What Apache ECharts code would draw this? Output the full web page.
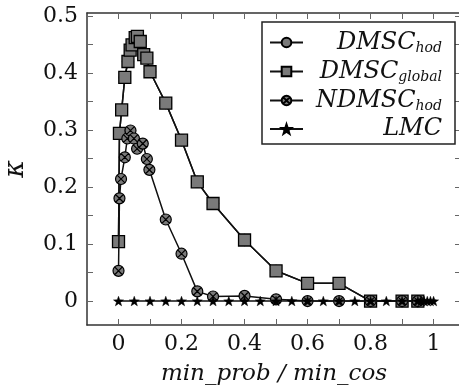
<!DOCTYPE html>
<html>
<head>
<meta charset="utf-8">
<script src="https://cdn.jsdelivr.net/npm/echarts@6/dist/echarts.min.js"></script>
<style>html,body{margin:0;padding:0;background:#fff;}#c{width:459px;height:390px;}</style>
</head>
<body>
<div id="c"></div>
<script>
// ---- data ----
const seriesNames = ['DMSC_hod', 'DMSC_global', 'NDMSC_hod', 'LMC'];

const globalX = [0, 0.003, 0.01, 0.02, 0.03, 0.037, 0.043, 0.053, 0.06, 0.069, 0.08, 0.09, 0.1, 0.15, 0.2, 0.25, 0.3, 0.4, 0.5, 0.6, 0.7, 0.8, 0.9, 0.95];
const globalY = [0.104, 0.294, 0.335, 0.392, 0.42, 0.44, 0.449, 0.462, 0.464, 0.455, 0.432, 0.426, 0.402, 0.347, 0.282, 0.209, 0.171, 0.107, 0.053, 0.031, 0.031, 0, 0, 0];

// DMSC_hod markers are hidden beneath the DMSC_global squares
const hodX = [0, 0.003, 0.01, 0.02, 0.03, 0.037, 0.043, 0.053, 0.06, 0.069, 0.08, 0.09, 0.1, 0.15, 0.2, 0.25, 0.3, 0.4, 0.5, 0.6, 0.7, 0.8, 0.9, 0.95];
const hodY = [0.104, 0.294, 0.335, 0.392, 0.42, 0.44, 0.449, 0.462, 0.464, 0.455, 0.432, 0.426, 0.402, 0.347, 0.282, 0.209, 0.171, 0.107, 0.053, 0.031, 0.031, 0, 0, 0];

const ndX = [0, 0.003, 0.008, 0.02, 0.028, 0.038, 0.049, 0.059, 0.077, 0.09, 0.098, 0.15, 0.2, 0.25, 0.3, 0.4, 0.5, 0.6, 0.7, 0.8, 0.9, 0.95];
const ndY = [0.053, 0.18, 0.214, 0.252, 0.285, 0.299, 0.285, 0.267, 0.276, 0.249, 0.23, 0.143, 0.083, 0.017, 0.008, 0.009, 0.003, 0, 0, 0, 0, 0];

const lmcX = [0, 0.05, 0.1, 0.15, 0.2, 0.25, 0.3, 0.35, 0.4, 0.45, 0.5, 0.55, 0.6, 0.65, 0.7, 0.75, 0.8, 0.85, 0.9, 0.95, 0.96, 0.97, 0.98, 0.99, 1];
const lmcY = [0, 0, 0, 0, 0, 0, 0, 0, 0, 0, 0, 0, 0, 0, 0, 0, 0, 0, 0, 0, 0, 0, 0, 0, 0];

const xTickValues = [0, 0.1, 0.2, 0.3, 0.4, 0.5, 0.6, 0.7, 0.8, 0.9, 1];
const xLabelValues = [0, 0.2, 0.4, 0.6, 0.8, 1];
const yTickValues = [0, 0.05, 0.1, 0.15, 0.2, 0.25, 0.3, 0.35, 0.4, 0.45, 0.5];
const yLabelValues = [0, 0.1, 0.2, 0.3, 0.4, 0.5];

// ---- styles ----
const FONT = 'DejaVu Serif';
const GRAY = '#7a7a7a';
const LINE = '#111';
const FRAME = '#333';

const crossCircle = 'path://M0,-10 A10,10 0 1,1 0,10 A10,10 0 1,1 0,-10 Z M-7.07,-7.07 L7.07,7.07 M7.07,-7.07 L-7.07,7.07';
const starPath = 'path://M0,-10 L2.35,-3.24 L9.51,-3.09 L3.8,1.24 L5.88,8.09 L0,4 L-5.88,8.09 L-3.8,1.24 L-9.51,-3.09 L-2.35,-3.24 Z';

function pairs(xs, ys) { return xs.map((x, i) => [x, ys[i]]); }
function fmt(v) { return String(v); }

const chart = echarts.init(document.getElementById('c'), null, { renderer: 'canvas' });

const baseX = {
  type: 'value', min: -0.1, max: 1.087,
  splitLine: { show: false },
  axisLine: { show: true, onZero: false, lineStyle: { color: FRAME, width: 1.5 } },
  axisTick: { show: true, inside: true, length: 6, customValues: xTickValues, lineStyle: { color: '#666', width: 1 } },
};
const baseY = {
  type: 'value', min: -0.042, max: 0.505,
  splitLine: { show: false },
  axisLine: { show: true, onZero: false, lineStyle: { color: FRAME, width: 1.5 } },
  axisTick: { show: true, inside: true, length: 6, customValues: yTickValues, lineStyle: { color: '#666', width: 1 } },
};

const legendRich = {
  m: { fontFamily: FONT, fontStyle: 'italic', fontSize: 24, lineHeight: 26, color: '#111', align: 'right' },
  s: { fontFamily: FONT, fontStyle: 'italic', fontSize: 14, color: '#111', align: 'right', lineHeight: 14, padding: [11, 0, 0, 0] }
};
const legendLabels = {
  'DMSC_hod': '{m|DMSC}{s|hod}',
  'DMSC_global': '{m|DMSC}{s|global}',
  'NDMSC_hod': '{m|NDMSC}{s|hod}',
  'LMC': '{m|LMC}'
};

chart.setOption({
  animation: false,
  backgroundColor: '#fff',
  textStyle: { fontFamily: FONT },
  grid: { left: 87, right: -2, top: 13, bottom: 65, containLabel: false, outerBoundsMode: 'none' },
  xAxis: [
    Object.assign({}, baseX, {
      position: 'bottom',
      name: 'min_prob / min_cos', nameLocation: 'middle', nameGap: 38,
      nameTextStyle: { fontFamily: FONT, fontStyle: 'italic', fontSize: 23, color: '#111' },
      axisLabel: { show: true, customValues: xLabelValues, formatter: fmt, fontFamily: FONT, fontSize: 22, color: '#111', margin: 8 }
    }),
    Object.assign({}, baseX, { position: 'top', axisLabel: { show: false } })
  ],
  yAxis: [
    Object.assign({}, baseY, {
      position: 'left',
      name: 'κ', nameLocation: 'middle', nameGap: 58, nameRotate: 90,
      nameTextStyle: { fontFamily: FONT, fontStyle: 'italic', fontSize: 27, color: '#111' },
      axisLabel: { show: true, customValues: yLabelValues, formatter: fmt, fontFamily: FONT, fontSize: 22, color: '#111', margin: 9 }
    }),
    Object.assign({}, baseY, { position: 'right', axisLabel: { show: false } })
  ],
  legend: {
    orient: 'vertical', left: 262, top: 22,
    padding: [8, 13, 3, 7],
    itemGap: 4,
    itemWidth: 33, itemHeight: 12,
    backgroundColor: '#fff',
    borderColor: '#222', borderWidth: 1.5, borderRadius: 0,
    data: seriesNames,
    formatter: (name) => legendLabels[name],
    textStyle: { width: 134, align: 'left', fontFamily: FONT, rich: legendRich }
  },
  series: [
    {
      name: 'DMSC_hod', type: 'line',
      data: pairs(hodX, hodY),
      symbol: 'circle', symbolSize: 11,
      lineStyle: { color: LINE, width: 1.5 },
      itemStyle: { color: GRAY, borderColor: '#000', borderWidth: 1.3 },
      z: 2
    },
    {
      name: 'DMSC_global', type: 'line',
      data: pairs(globalX, globalY),
      symbol: 'rect', symbolSize: 12,
      lineStyle: { color: LINE, width: 1.5 },
      itemStyle: { color: GRAY, borderColor: '#000', borderWidth: 1.3 },
      z: 3
    },
    {
      name: 'NDMSC_hod', type: 'line',
      data: pairs(ndX, ndY),
      symbol: crossCircle, symbolSize: 11, symbolKeepAspect: true,
      lineStyle: { color: LINE, width: 1.5 },
      itemStyle: { color: GRAY, borderColor: '#000', borderWidth: 1.2 },
      z: 4
    },
    {
      name: 'LMC', type: 'line',
      data: pairs(lmcX, lmcY),
      symbol: starPath, symbolSize: 10, symbolKeepAspect: true,
      lineStyle: { color: LINE, width: 1.5 },
      itemStyle: { color: '#000', borderColor: '#000', borderWidth: 0.5 },
      z: 5
    }
  ]
});
</script>
</body>
</html>
